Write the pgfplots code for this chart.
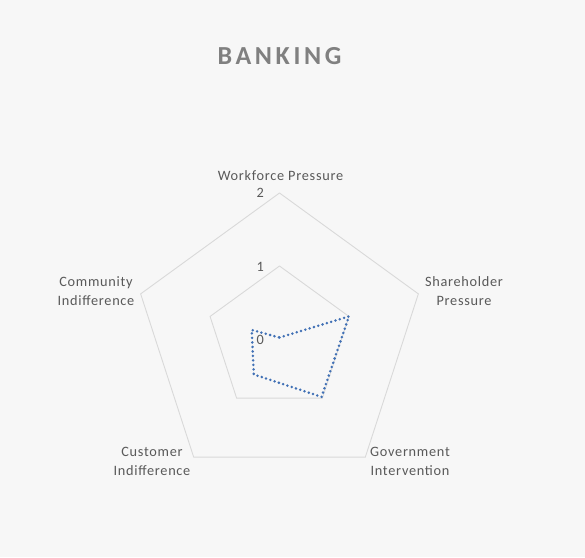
\documentclass[border=0pt]{standalone}
\usepackage{pgfplots}
\pgfplotsset{compat=1.18}
\usepackage{fontspec}
\setmainfont{Carlito}
\newfontfamily\titlefont[LetterSpace=14]{Carlito}
\newfontfamily\labfont[LetterSpace=5]{Carlito}
\definecolor{bg}{HTML}{F7F7F7}
\definecolor{txt}{HTML}{595959}
\definecolor{ttl}{HTML}{808080}
\definecolor{grd}{HTML}{D9D9D9}
\definecolor{ser}{HTML}{4070B5}
\begin{document}
\begin{tikzpicture}[x=1pt,y=1pt]
\fill[bg] (0,0) rectangle (585,557);
\begin{axis}[
  at={(279.5pt,218pt)}, anchor=center,
  x=73pt, y=73pt,
  xmin=-3, xmax=3, ymin=-3, ymax=3,
  hide axis, clip=false,
]
% grid pentagons (radius 1 and 2)
\addplot[grd, line width=0.9pt, data cs=polar] coordinates {(90,1) (18,1) (-54,1) (-126,1) (162,1) (90,1)};
\addplot[grd, line width=0.9pt, data cs=polar] coordinates {(90,2) (18,2) (-54,2) (-126,2) (162,2) (90,2)};
% data: Workforce, Shareholder, Government, Customer, Community
\addplot[ser, line width=2.8pt, line cap=round, dash pattern=on 0pt off 4.5pt, data cs=polar] coordinates {(90,0.02) (18,1) (-54,0.98) (-126,0.6) (162,0.4) (90,0.02)};
\end{axis}
\node[font=\titlefont\bfseries\fontsize{26}{30}\selectfont, text=ttl, anchor=base, inner sep=0] at (279.5,492) {BANKING};
\begin{scope}[every node/.style={font=\labfont\fontsize{14.3}{19}\selectfont, text=txt, align=center, inner sep=0}]
\node at (280.5,381) {Workforce Pressure};
\node at (464,266) {Shareholder\\Pressure};
\node at (96,266) {Community\\Indifference};
\node at (152,95.5) {Customer\\Indifference};
\node at (410,95.5) {Government\\Intervention};
\node[anchor=east] at (264,364) {2};
\node[anchor=east] at (264,290) {1};
\node[anchor=east] at (264,217) {0};
\end{scope}
\end{tikzpicture}
\end{document}
